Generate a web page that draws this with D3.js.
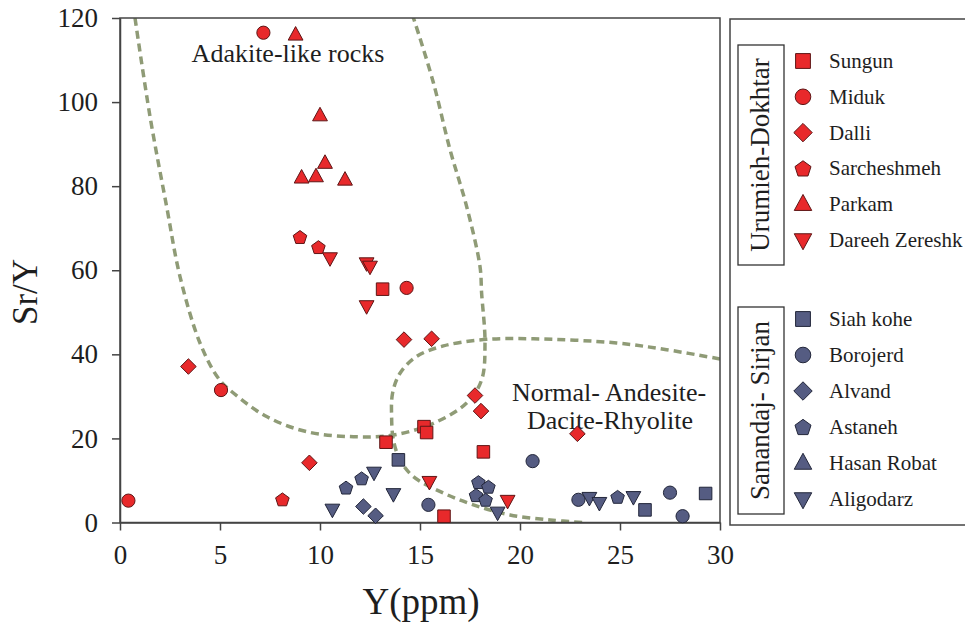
<!DOCTYPE html>
<html><head><meta charset="utf-8">
<script src="https://cdn.jsdelivr.net/npm/d3@7"></script>
<style>html,body{margin:0;padding:0;background:#fff;}svg{display:block;}</style>
</head><body>
<script>
// ---- data (Y ppm, Sr/Y) ----
const sungun = [[13.13,55.5],[13.3,19.1],[15.2,22.8],[15.33,21.4],[18.17,16.8],[16.2,1.5]];
const miduk = [[7.17,116.5],[14.33,55.8],[5.05,31.5],[0.42,5.2]];
const dalli = [[14.2,43.5],[15.58,43.7],[3.42,37.1],[17.75,30.2],[18.05,26.5],[22.87,21.1],[9.47,14.2]];
const sarcheshmeh = [[9.0,67.9],[9.92,65.5],[8.12,5.5]];
const parkam = [[8.78,116],[10.0,96.8],[10.25,85.5],[9.08,82],[9.8,82.3],[11.25,81.5]];
const dareeh = [[10.5,62.9],[12.33,61.7],[12.5,60.9],[12.33,51.5],[15.47,9.7],[19.38,5.2]];
const siahKohe = [[13.92,14.9],[26.25,3.0],[29.28,6.9]];
const borojerd = [[20.63,14.6],[15.42,4.2],[22.92,5.4],[27.5,7.1],[28.13,1.5]];
const alvand = [[12.17,3.8],[12.78,1.6]];
const astaneh = [[12.08,10.5],[11.3,8.3],[17.92,9.6],[18.42,8.5],[17.8,6.5],[18.28,5.4],[24.88,6.1]];
const hasanRobat = [];
const aligodarz = [[12.7,11.9],[13.67,6.8],[10.62,3.1],[18.88,2.4],[23.47,5.9],[23.97,4.7],[25.67,6.1]];

const xTicks = [0,5,10,15,20,25,30];
const yTicks = [0,20,40,60,80,100,120];

// field boundaries
const adakiteCurve = [[0.75,120],[1.5,96.6],[2.33,75.2],[3.0,58.5],[4.0,42.7],[4.92,34.3],[5.67,30.8],[7.33,25.2],[9.33,21.6],[11.67,20.4],[13.67,20.8],[15.67,23.6],[17.33,28.4],[18.08,33.9],[18.25,42.7],[18.08,54.6],[18.0,60.9],[17.33,75.2],[16.5,88.7],[15.67,104.6],[14.75,118.9],[14.6,121]];
const normalCurve = [[30,38.9],[27.33,41.1],[24.83,42.7],[20.67,43.7],[18.17,43.5],[16.17,42.0],[14.83,39.5],[14.0,35.5],[13.63,30.8],[13.58,25.2],[13.67,19.6],[14.0,14.9],[14.67,10.9],[16.17,7.0],[17.67,4.2],[19.5,1.8],[21.5,0.6],[23.17,0.0]];

const groupUD = "Urumieh-Dokhtar";
const groupSS = "Sanandaj- Sirjan";
const namesUD = ["Sungun","Miduk","Dalli","Sarcheshmeh","Parkam","Dareeh Zereshk"];
const namesSS = ["Siah kohe","Borojerd","Alvand","Astaneh","Hasan Robat","Aligodarz"];
const shapes = ["square","circle","diamond","pentagon","triUp","triDown"];
const seriesUD = [sungun,miduk,dalli,sarcheshmeh,parkam,dareeh];
const seriesSS = [siahKohe,borojerd,alvand,astaneh,hasanRobat,aligodarz];

// ---- styles ----
const RED = "#e8292b", RED_S = "#5e1616";
const BLUE = "#555c82", BLUE_S = "#22263a";
const FONT = "'Liberation Serif','Times New Roman',serif";
const INK = "#1e1e1e";

const W = 965, H = 626;
const svg = d3.select("body").append("svg").attr("width",W).attr("height",H);
svg.append("rect").attr("width",W).attr("height",H).attr("fill","#fff");

const x = d3.scaleLinear().domain([0,30]).range([120,720]);
const y = d3.scaleLinear().domain([0,120]).range([522.5,18]);

// custom symbol types (size = radius)
const symTypes = {
  square: {draw(c,r){const h=r*0.95;c.moveTo(-h,-h);c.lineTo(h,-h);c.lineTo(h,h);c.lineTo(-h,h);c.closePath();}},
  circle: {draw(c,r){c.moveTo(r,0);c.arc(0,0,r,0,2*Math.PI);}},
  diamond: {draw(c,r){const d=r*1.18;c.moveTo(0,-d);c.lineTo(d,0);c.lineTo(0,d);c.lineTo(-d,0);c.closePath();}},
  pentagon: {draw(c,r){const R=r*1.08;for(let k=0;k<5;k++){const a=-Math.PI/2+k*2*Math.PI/5;const px=R*Math.cos(a),py=R*Math.sin(a)+r*0.1;if(k===0)c.moveTo(px,py);else c.lineTo(px,py);}c.closePath();}},
  triUp: {draw(c,r){c.moveTo(0,-r*1.25);c.lineTo(r*1.12,r*0.8);c.lineTo(-r*1.12,r*0.8);c.closePath();}},
  triDown: {draw(c,r){c.moveTo(0,r*1.25);c.lineTo(r*1.12,-r*0.8);c.lineTo(-r*1.12,-r*0.8);c.closePath();}}
};

// clip for curves
svg.append("clipPath").attr("id","plotClip").append("rect")
  .attr("x",120).attr("y",18).attr("width",600).attr("height",504.5);

const line = d3.line().x(d=>x(d[0])).y(d=>y(d[1])).curve(d3.curveCatmullRom.alpha(0.5));
const curves = svg.append("g").attr("clip-path","url(#plotClip)");
[adakiteCurve, normalCurve].forEach(c=>{
  curves.append("path").attr("d",line(c)).attr("fill","none")
    .attr("stroke","#8f9b76").attr("stroke-width",3.5).attr("stroke-dasharray","8,5");
});

// frame
svg.append("rect").attr("x",120).attr("y",18).attr("width",600).attr("height",504.5)
  .attr("fill","none").attr("stroke","#444").attr("stroke-width",1.5);

// axes
const xAxis = svg.append("g").attr("transform","translate(0,522.5)")
  .call(d3.axisBottom(x).tickValues(xTicks).tickSize(8).tickPadding(14).tickSizeOuter(0));
const yAxis = svg.append("g").attr("transform","translate(120,0)")
  .call(d3.axisLeft(y).tickValues(yTicks).tickSize(8).tickPadding(14).tickSizeOuter(0));
[xAxis,yAxis].forEach(a=>{
  a.select(".domain").attr("stroke","#444").attr("stroke-width",1.5);
  a.selectAll(".tick line").attr("stroke","#444").attr("stroke-width",1.5);
  a.selectAll("text").attr("font-family",FONT).attr("font-size",27).attr("fill",INK);
});

// axis titles
svg.append("text").attr("x",421).attr("y",614).attr("text-anchor","middle")
  .attr("font-family",FONT).attr("font-size",37).attr("fill",INK).text("Y(ppm)");
svg.append("text").attr("transform","translate(37,292) rotate(-90)").attr("text-anchor","middle")
  .attr("font-family",FONT).attr("font-size",35).attr("fill",INK).text("Sr/Y");

// field labels
svg.append("text").attr("x",288).attr("y",62).attr("text-anchor","middle")
  .attr("font-family",FONT).attr("font-size",26).attr("fill",INK).text("Adakite-like rocks");
svg.append("text").attr("x",609).attr("y",401).attr("text-anchor","middle")
  .attr("font-family",FONT).attr("font-size",26).attr("fill",INK).text("Normal- Andesite-");
svg.append("text").attr("x",610).attr("y",429).attr("text-anchor","middle")
  .attr("font-family",FONT).attr("font-size",26).attr("fill",INK).text("Dacite-Rhyolite");

// points
const pts = svg.append("g");
function drawSeries(data, shape, fill, stroke){
  pts.selectAll(null).data(data).enter().append("path")
    .attr("d", d3.symbol().type(symTypes[shape]).size(6.6))
    .attr("transform", d=>`translate(${x(d[0])},${y(d[1])})`)
    .attr("fill",fill).attr("stroke",stroke).attr("stroke-width",1);
}
seriesSS.forEach((s,i)=>drawSeries(s,shapes[i],BLUE,BLUE_S));
seriesUD.forEach((s,i)=>drawSeries(s,shapes[i],RED,RED_S));

// legend
const lg = svg.append("g");
lg.append("rect").attr("x",730).attr("y",19).attr("width",260).attr("height",506)
  .attr("fill","none").attr("stroke","#444").attr("stroke-width",1.5);
function legendGroup(title, names, fill, stroke, boxY, boxH, y0, y5){
  lg.append("rect").attr("x",738).attr("y",boxY).attr("width",46).attr("height",boxH)
    .attr("fill","none").attr("stroke","#333").attr("stroke-width",1.3);
  const cy = boxY + boxH/2;
  lg.append("text").attr("transform",`translate(769,${cy}) rotate(-90)`).attr("text-anchor","middle")
    .attr("font-family",FONT).attr("font-size",27).attr("fill",INK).text(title);
  const ly = d3.scaleLinear().domain([0,5]).range([y0, y5]);
  names.forEach((n,i)=>{
    lg.append("path").attr("d",d3.symbol().type(symTypes[shapes[i]]).size(7.8))
      .attr("transform",`translate(803,${ly(i)})`).attr("fill",fill).attr("stroke",stroke).attr("stroke-width",1);
    lg.append("text").attr("x", 829).attr("y", ly(i)+7).attr("font-family",FONT).attr("font-size",21)
      .attr("fill",INK).text(n);
  });
}
legendGroup(groupUD, namesUD, RED, RED_S, 45, 220, 61, 240);
legendGroup(groupSS, namesSS, BLUE, BLUE_S, 307, 207, 319, 499);
</script>
</body></html>
